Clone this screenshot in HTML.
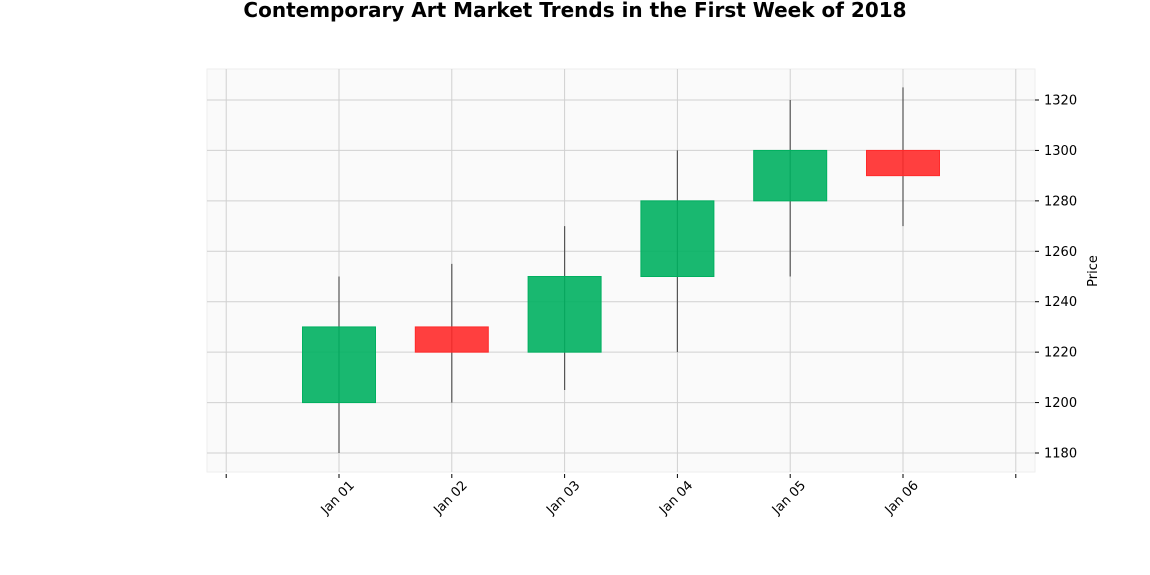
<!DOCTYPE html>
<html><head><meta charset="utf-8"><style>
body{margin:0;background:#fff;}
svg{display:block;font-family:"DejaVu Sans","Liberation Sans",sans-serif;}
</style></head><body>
<svg id="c" width="1150" height="575" xmlns="http://www.w3.org/2000/svg">
<text x="575" y="17" text-anchor="middle" font-size="20" font-weight="bold">Contemporary Art Market Trends in the First Week of 2018</text>
<rect x="207" y="69" width="828" height="403" fill="#fafafa" stroke="#eeeeee" stroke-width="1"/>
<g id="grid"></g><g id="candles"></g><g id="axes"></g>
<text transform="translate(1097,271) rotate(-90)" text-anchor="middle" font-size="13">Price</text>
</svg>
<script>
const dates=["Jan 01","Jan 02","Jan 03","Jan 04","Jan 05","Jan 06"];
const opens=[1200,1230,1220,1250,1280,1300];
const closes=[1230,1220,1250,1280,1300,1290];
const highs=[1250,1255,1270,1300,1320,1325];
const lows=[1180,1200,1205,1220,1250,1270];
const yTicks=[1180,1200,1220,1240,1260,1280,1300,1320];
const NS="http://www.w3.org/2000/svg";
const xs=i=>339+i*112.8;
const ys=v=>453-(v-1180)*(353/140);
function mk(tag,at,parent){const e=document.createElementNS(NS,tag);for(const k in at)e.setAttribute(k,at[k]);document.getElementById(parent).appendChild(e);return e;}
for(const t of yTicks){
 const g=mk('line',{x1:207,x2:1035,y1:ys(t),y2:ys(t),stroke:'#d0d0d0','stroke-width':1},'grid');
 
 
 const tk=mk('line',{x1:1035,x2:1039,y1:ys(t),y2:ys(t),stroke:'#000'},'axes');
 
 
 const tx=mk('text',{x:1044,y:ys(t)+4.5,'font-size':13},'axes');
 tx.textContent=t;
 
 
}
for(let i=-1;i<=dates.length;i++){
 const g=mk('line',{x1:xs(i),x2:xs(i),y1:69,y2:472,stroke:'#d0d0d0','stroke-width':1},'grid');
 
 
 const tk=mk('line',{x1:xs(i),x2:xs(i),y1:474,y2:478,stroke:'#000'},'axes');
 
 
 if(i>=0&&i<dates.length){
  const tx=mk('text',{transform:`translate(${xs(i)+16},${486}) rotate(-45)`,'text-anchor':'end','font-size':13},'axes');
  tx.textContent=dates[i];
  
  
 }
}
const w=73;
dates.forEach((d,i)=>{
 const up=closes[i]>=opens[i];
 const col=up?'#00b060':'#ff2a2a';
 const wk=mk('line',{x1:xs(i),x2:xs(i),y1:ys(highs[i]),y2:ys(lows[i]),stroke:'#555','stroke-width':1.2},'candles');
 
 
 const top=ys(Math.max(opens[i],closes[i])),bot=ys(Math.min(opens[i],closes[i]));
 const r=mk('rect',{x:xs(i)-w/2,y:top,width:w,height:bot-top,fill:col,'fill-opacity':0.9,stroke:col,'stroke-width':1},'candles');
 
 
});
</script>
</body></html>
